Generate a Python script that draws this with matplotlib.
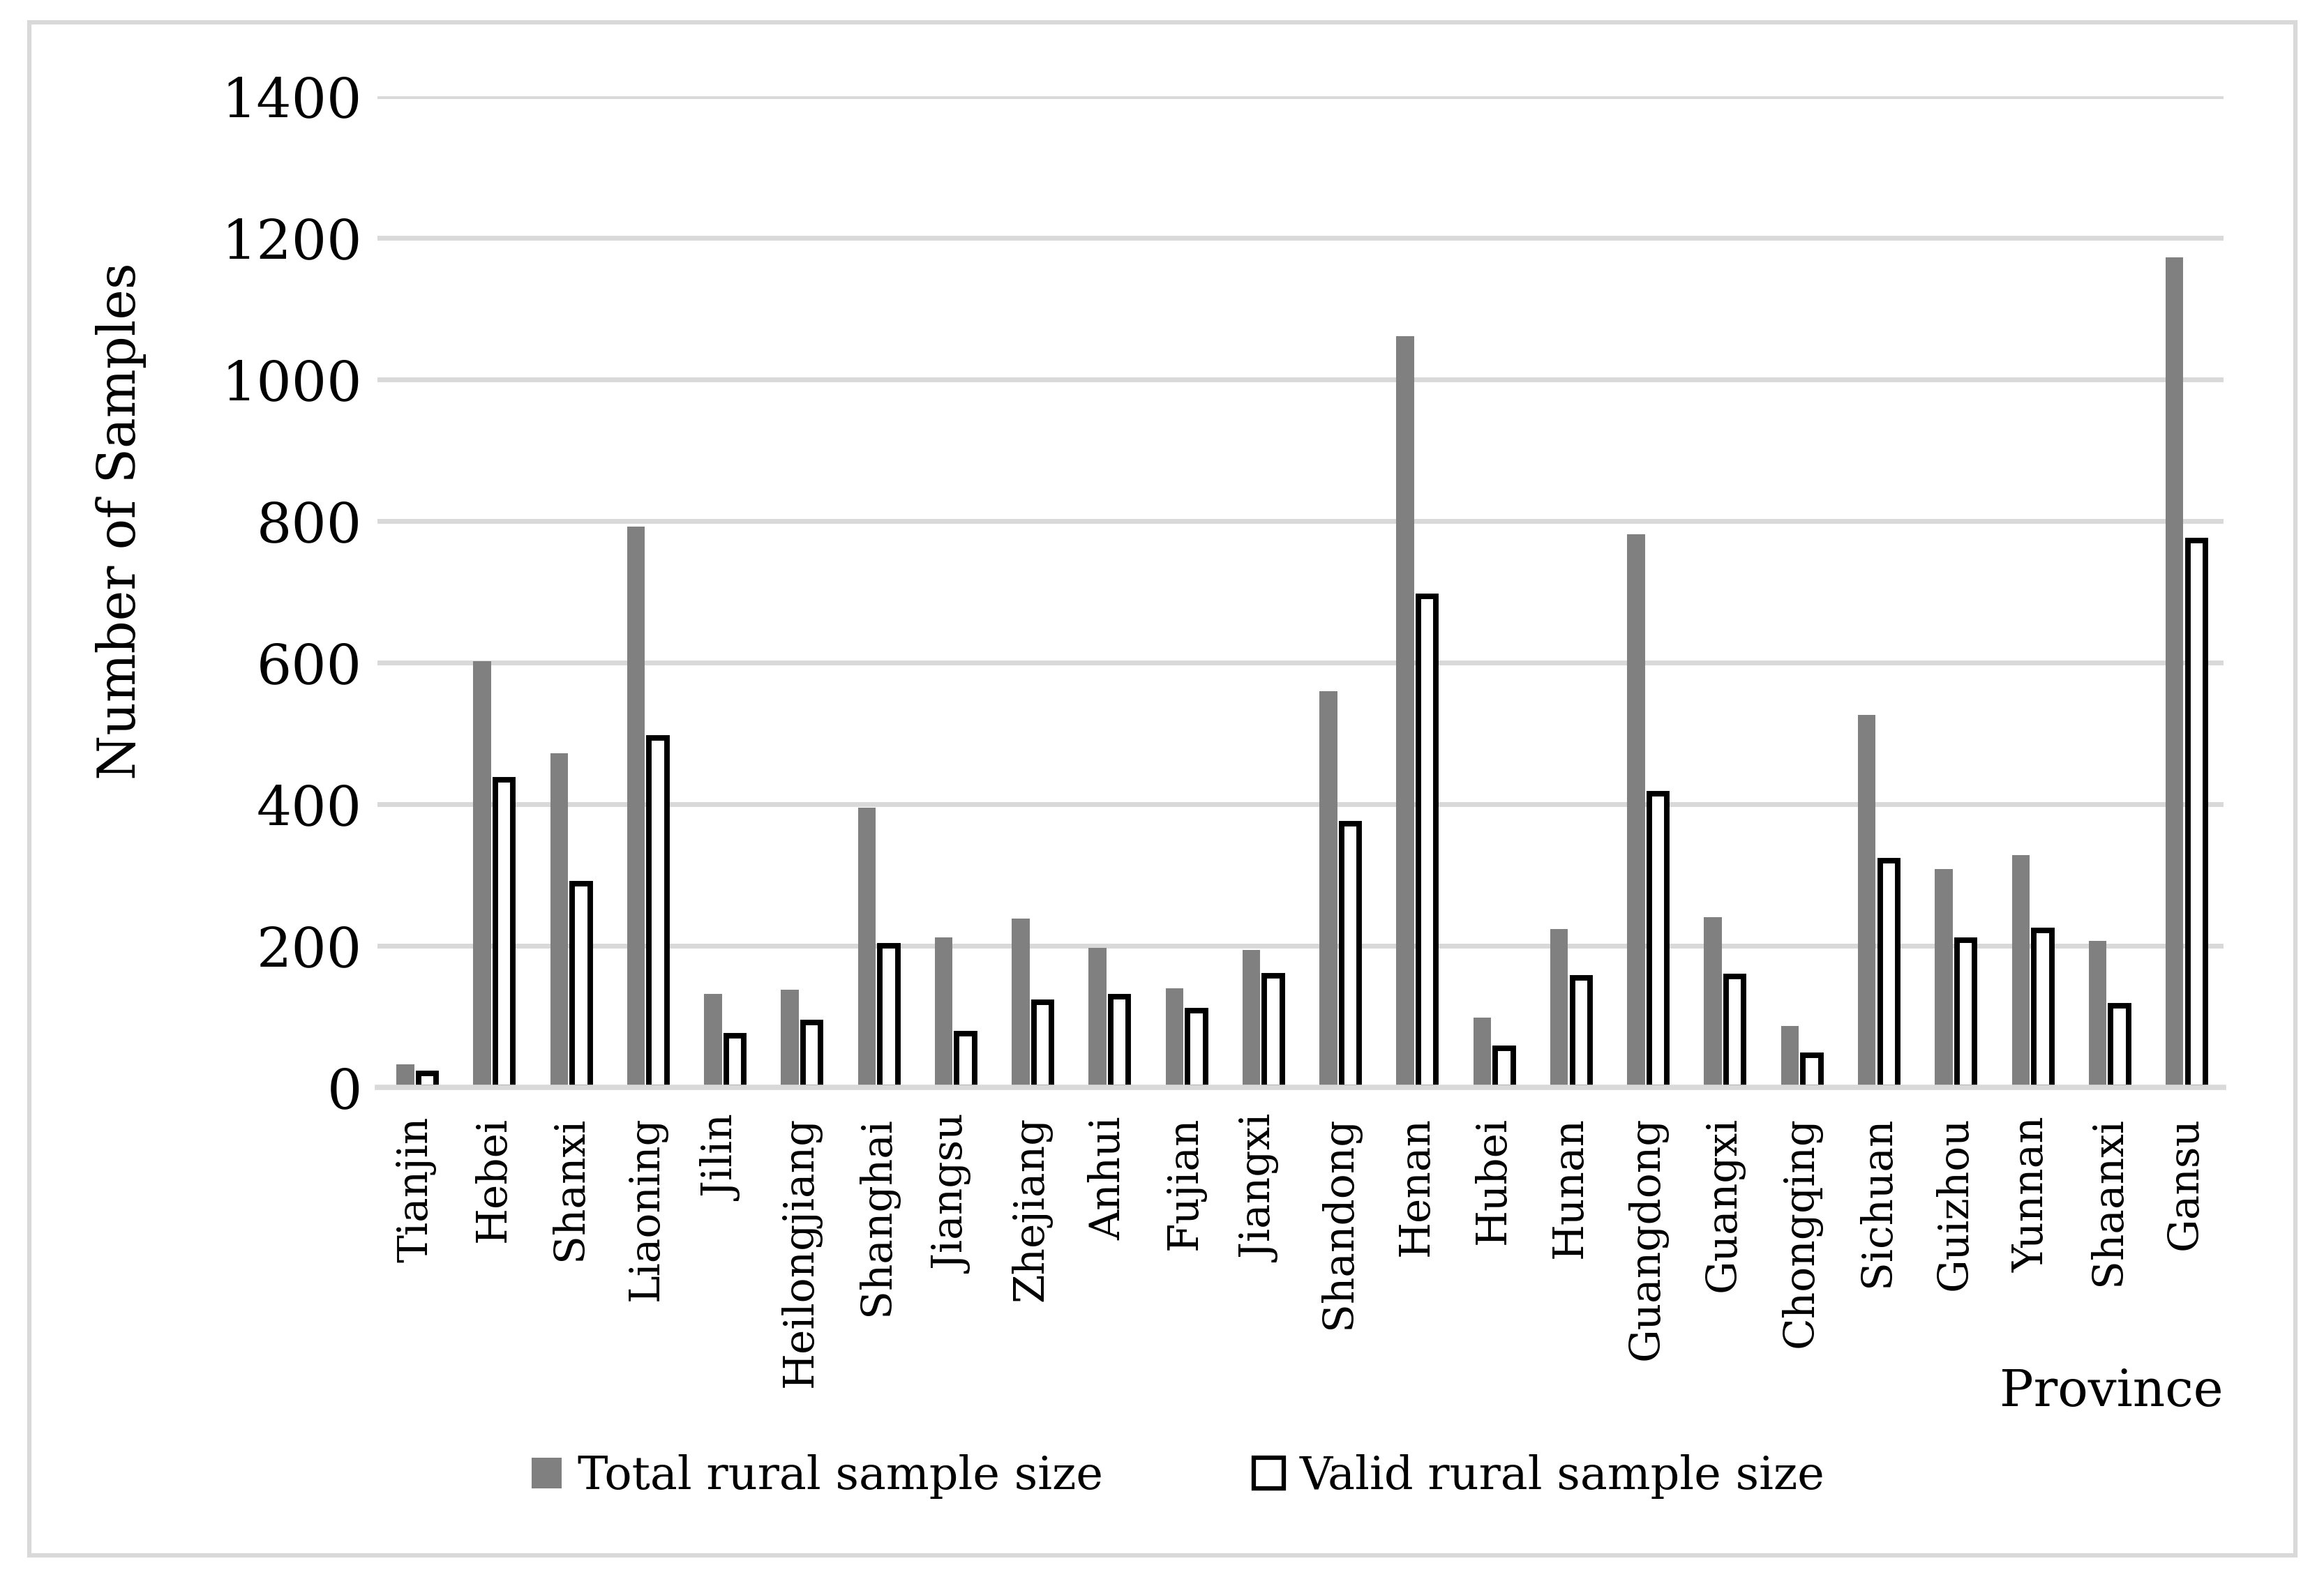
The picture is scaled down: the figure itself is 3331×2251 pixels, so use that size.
#!/usr/bin/env python3
import numpy as np
import matplotlib.pyplot as plt
from matplotlib.patches import Rectangle, Patch

provinces = ["Tianjin", "Hebei", "Shanxi", "Liaoning", "Jilin", "Heilongjiang",
             "Shanghai", "Jiangsu", "Zhejiang", "Anhui", "Fujian", "Jiangxi",
             "Shandong", "Henan", "Hubei", "Hunan", "Guangdong", "Guangxi",
             "Chongqing", "Sichuan", "Guizhou", "Yunnan", "Shaanxi", "Gansu"]
total_size = [33, 602, 472, 792, 132, 138, 395, 212, 238, 197, 140, 194,
              560, 1061, 99, 224, 781, 240, 87, 526, 308, 328, 207, 1172]
valid_size = [20, 435, 288, 494, 73, 92, 200, 76, 120, 128, 108, 158,
              372, 694, 55, 155, 415, 157, 45, 320, 208, 222, 115, 772]
y_ticks = [0, 200, 400, 600, 800, 1000, 1200, 1400]


def main():
    plt.rcParams['font.family'] = ['DejaVu Serif']
    fig = plt.figure(figsize=(33.31, 22.51), dpi=100)
    ax = fig.add_axes([0.1624, 0.3074, 0.7944, 0.6313])

    x = np.arange(len(provinces))
    w = 0.231
    ax.bar(x - 0.138, total_size, width=w, color="#808080", zorder=3)
    ax.bar(x + 0.148, valid_size, width=w, color="white", edgecolor="black",
           linewidth=5.7, zorder=3)

    # format the plot
    ax.set_xlim(-0.5, len(provinces) - 0.5)
    ax.set_ylim(0, 1400)
    ax.set_yticks(y_ticks)
    ax.set_yticklabels([str(t) for t in y_ticks], fontsize=57)
    ax.set_xticks(x)
    ax.set_xticklabels(provinces, rotation=90, fontsize=43, va="top", ha="center")
    ax.tick_params(axis="both", length=0)
    ax.tick_params(axis="y", pad=16)
    ax.tick_params(axis="x", pad=30)
    ax.yaxis.grid(True, color="#d9d9d9", linewidth=5, zorder=0)
    ax.set_axisbelow(True)
    for side in ["top", "right", "left"]:
        ax.spines[side].set_visible(False)
    ax.spines["bottom"].set_color("#d9d9d9")
    ax.spines["bottom"].set_linewidth(5.5)
    ax.spines["bottom"].set_zorder(4)

    ax.set_ylabel("Number of Samples", fontsize=53, va="center")
    ax.yaxis.set_label_coords(-0.139, 0.571)
    ax.set_xlabel("Province", fontsize=52, ha="right", va="center")
    ax.xaxis.set_label_coords(1.0, -0.3075)

    handles = [Patch(facecolor="#808080", edgecolor="none"),
               Patch(facecolor="white", edgecolor="black", linewidth=4.5)]
    fig.legend(handles, ["Total rural sample size", "Valid rural sample size"],
               loc="center", bbox_to_anchor=(0.507, 0.0595), ncol=2,
               frameon=False, fontsize=47, handlelength=0.66, handleheight=0.66,
               handletextpad=0.35, columnspacing=3.3)

    fig.patches.append(Rectangle((42 / 3331, 1 - 2230 / 2251),
                                 (3290 - 42) / 3331, (2230 - 32) / 2251,
                                 transform=fig.transFigure, fill=False,
                                 edgecolor="#d9d9d9", linewidth=4.5))

    fig.savefig("out.png", dpi=100)


if __name__ == "__main__":
    main()
